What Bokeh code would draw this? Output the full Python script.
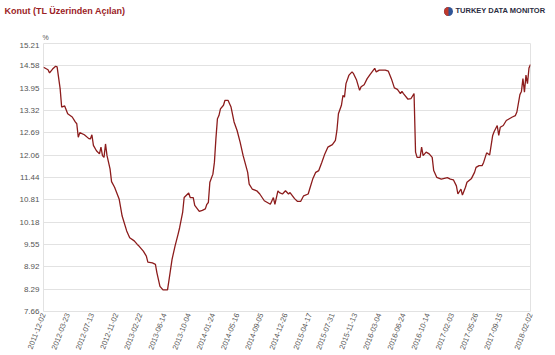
import pandas as pd
from bokeh.plotting import figure
from bokeh.layouts import column, row
from bokeh.models import (Range1d, FixedTicker, DatetimeTickFormatter, Label,
                          CustomJSTickFormatter)
from bokeh.embed import file_html
from bokeh.resources import INLINE

title = "Konut (TL Üzerinden Açılan)"
brand = "TURKEY DATA MONITOR"
unit = "%"

start_date = "2011-12-02"
# weeks since start_date
weeks = [0, 3, 4, 6, 8, 9, 11, 12, 14, 16, 19, 21, 22, 23, 24, 27, 30, 31, 32, 33,
         35, 37, 38, 39, 40, 41, 42, 44, 45, 47, 50, 52, 55, 57, 60, 62, 63, 66, 68, 69,
         72, 74, 75, 77, 79, 82, 83, 85, 87, 89, 90, 92, 93, 96, 97, 99, 100, 103, 105, 107,
         108, 109, 110, 112, 113, 114, 115, 116, 117, 119, 120, 122, 124, 126, 128, 130, 132, 135, 136, 138,
         141, 143, 146, 148, 150, 152, 153, 155, 156, 158, 160, 162, 163, 166, 168, 170, 172, 175, 176, 178,
         180, 182, 184, 186, 188, 191, 193, 194, 195, 197, 198, 199, 200, 202, 204, 205, 207, 209, 210, 212,
         214, 216, 219, 220, 222, 226, 228, 230, 232, 234, 236, 237, 238, 241, 243, 245, 246, 247, 249, 250,
         251, 253, 255, 257, 258, 260, 263, 267, 269, 271, 273, 274, 276, 277, 279, 280, 283, 285, 286, 288,
         290, 291, 293, 295, 297, 298, 300, 301, 302, 304, 306, 308, 310, 312, 313, 315, 316, 317, 318, 319,
         320, 321, 322]
rates = [14.54, 14.47, 14.38, 14.49, 14.57, 14.55, 13.94, 13.42, 13.45, 13.23, 13.14, 13.00, 12.95, 12.57, 12.70, 12.64, 12.53, 12.52, 12.64, 12.34,
         12.19, 12.10, 12.29, 12.05, 12.00, 12.38, 12.05, 11.68, 11.32, 11.16, 10.83, 10.35, 9.93, 9.74, 9.65, 9.55, 9.51, 9.36, 9.22, 9.05,
         9.03, 8.99, 8.75, 8.37, 8.27, 8.27, 8.55, 9.13, 9.51, 9.84, 10.02, 10.45, 10.87, 11.00, 10.87, 10.87, 10.65, 10.48, 10.51, 10.55,
         10.68, 10.73, 11.30, 11.53, 11.86, 12.53, 13.09, 13.18, 13.37, 13.47, 13.61, 13.61, 13.42, 13.00, 12.76, 12.43, 12.05, 11.58, 11.25, 11.11,
         11.06, 10.97, 10.78, 10.73, 10.68, 10.87, 10.68, 11.06, 11.01, 10.97, 11.06, 10.97, 11.01, 10.84, 10.76, 10.76, 10.92, 10.97, 11.11, 11.39,
         11.58, 11.63, 11.86, 12.10, 12.29, 12.36, 12.48, 12.76, 13.23, 13.47, 13.75, 13.70, 14.08, 14.32, 14.41, 14.36, 14.18, 13.89, 13.99, 14.05,
         14.22, 14.34, 14.51, 14.41, 14.46, 14.46, 14.43, 14.22, 13.96, 13.92, 13.80, 13.86, 13.80, 13.64, 13.66, 13.80, 12.15, 12.00, 12.00, 12.29,
         12.05, 12.15, 12.10, 12.00, 11.63, 11.44, 11.39, 11.43, 11.39, 11.37, 11.20, 10.97, 11.11, 10.94, 11.16, 11.30, 11.41, 11.58, 11.72, 11.77,
         11.77, 11.86, 12.13, 12.07, 12.62, 12.73, 12.90, 12.62, 12.85, 12.90, 13.04, 13.09, 13.14, 13.18, 13.28, 13.77, 13.86, 14.22, 13.84, 14.32,
         14.08, 14.52, 14.62]

x_tick_labels = ["2011-12-02", "2012-03-23", "2012-07-13", "2012-11-02", "2013-02-22",
                 "2013-06-14", "2013-10-04", "2014-01-24", "2014-05-16", "2014-09-05",
                 "2014-12-26", "2015-04-17", "2015-07-31", "2015-11-13", "2016-03-04",
                 "2016-06-24", "2016-10-14", "2017-02-03", "2017-05-26", "2017-09-15",
                 "2018-02-02"]
y_ticks = [7.66, 8.29, 8.92, 9.55, 10.18, 10.81, 11.44, 12.06, 12.69, 13.32, 13.95, 14.58, 15.21]

dates = pd.to_datetime(start_date) + pd.to_timedelta([w * 7 for w in weeks], unit="D")
x_ms = [d.value // 10**6 for d in dates]
tick_ms = [pd.to_datetime(t).value // 10**6 for t in x_tick_labels]

W = 555
HEAD = 42

# ---- header strip (title, brand, unit) ----
h = figure(width=W, height=HEAD, output_backend="svg", toolbar_location=None,
           x_range=Range1d(0, W), y_range=Range1d(HEAD, 0),
           min_border=0, x_axis_location=None, y_axis_location=None)
h.xgrid.grid_line_color = None
h.ygrid.grid_line_color = None
h.outline_line_color = None
h.background_fill_color = "white"
h.border_fill_color = "white"

h.add_layout(Label(x=4, y=15.5, text=title, text_font="Liberation Sans", text_font_size="9px",
                   text_font_style="bold", text_color="#9b2226"))
h.circle(x=[448], y=[11], radius=4.5, fill_color="#2f5597", line_color=None)
h.wedge(x=[448], y=[11], radius=4.5, start_angle=1.5708, end_angle=4.7124,
        fill_color="#c0392b", line_color=None)
h.add_layout(Label(x=455, y=14, text=brand, text_font="Liberation Sans", text_font_size="7.5px",
                   text_font_style="bold", text_color="#2b2d42"))
h.add_layout(Label(x=42, y=40, text=unit, text_font="Liberation Sans", text_font_size="7px",
                   text_color="#555555"))

# ---- main chart ----
p = figure(width=W, height=355 - HEAD, output_backend="svg", toolbar_location=None,
           x_axis_type="datetime",
           x_range=Range1d(tick_ms[0], tick_ms[-1]),
           y_range=Range1d(y_ticks[0], y_ticks[-1]),
           min_border_left=43, min_border_right=25, min_border_top=1, min_border_bottom=44)

p.line(x_ms, rates, line_color="#8c1c1c", line_width=1.3)

fmt = "%Y-%m-%d"
p.xaxis.ticker = FixedTicker(ticks=tick_ms)
p.xaxis.formatter = DatetimeTickFormatter(milliseconds=fmt, seconds=fmt, minsec=fmt, minutes=fmt,
                                          hourmin=fmt, hours=fmt, days=fmt, months=fmt, years=fmt)
p.xaxis.major_label_orientation = 1.2
p.yaxis.ticker = FixedTicker(ticks=y_ticks)
p.yaxis.formatter = CustomJSTickFormatter(code="return tick.toFixed(2);")

for ax in (p.xaxis[0], p.yaxis[0]):
    ax.axis_line_color = None
    ax.major_tick_line_color = None
    ax.minor_tick_line_color = None
    ax.major_tick_out = 0
    ax.major_tick_in = 0
    ax.minor_tick_out = 0
    ax.major_label_text_font = "Liberation Sans"
    ax.major_label_text_font_size = "8px"
    ax.major_label_text_color = "#555555"
    ax.major_label_standoff = 4
p.xaxis.major_label_standoff = 2
p.xaxis.major_label_text_font_size = "7.5px"

p.xgrid.grid_line_color = None
p.ygrid.grid_line_color = "#e2e2e2"
p.ygrid.grid_line_width = 1
p.outline_line_color = "#e2e2e2"
p.background_fill_color = "white"
p.border_fill_color = "white"

layout = column(row(h), p, spacing=0)
open("out.html", "w").write(file_html(layout, INLINE))
